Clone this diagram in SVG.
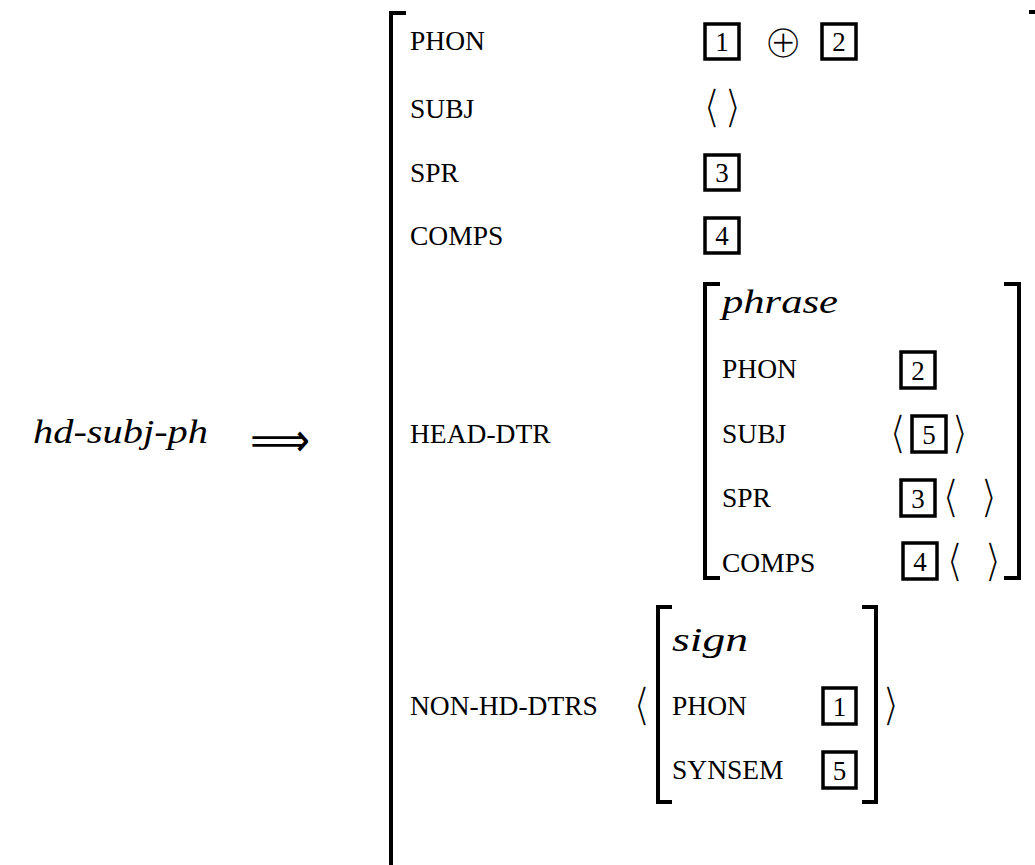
<svg xmlns="http://www.w3.org/2000/svg" width="1035" height="865" viewBox="0 0 1035 865">
<style>
.lbl{font-family:"Liberation Serif","Times New Roman",serif;font-size:27.5px;fill:#000}
.it{font-family:"Liberation Serif","Times New Roman",serif;font-style:italic;font-size:34px;fill:#000}
.num{font-family:"Liberation Serif","Times New Roman",serif;font-size:27px;fill:#000;text-anchor:middle}
.ang{font-family:"DejaVu Sans",sans-serif;font-size:45px;fill:#000;stroke:#fff;stroke-width:1.6px}
.sym{font-family:"DejaVu Sans",sans-serif;fill:#000}
.br{fill:none;stroke:#000;stroke-width:4}
.box{fill:none;stroke:#000;stroke-width:3.5}
</style>
<rect width="1035" height="865" fill="#fff"/>

<g id="lhs">
  <text class="it" x="33" y="443" textLength="175" lengthAdjust="spacingAndGlyphs">hd-subj-ph</text>
  <text class="sym" x="250" y="456" font-size="46" textLength="60" lengthAdjust="spacingAndGlyphs">⟹</text>
</g>

<g id="connectors">
  <path class="br" d="M406,13 H391 V865"/>
  <path class="br" d="M1029,12 H1035"/>
</g>

<g id="outer-avm">
  <g id="row-phon">
    <text class="lbl" x="410" y="50">PHON</text>
    <rect class="box" x="705" y="24" width="34" height="35"/>
    <text class="num" x="722" y="51">1</text>
    <text class="sym" x="783" y="58" font-size="48" text-anchor="middle" stroke="#fff" stroke-width="2">⊕</text>
    <rect class="box" x="822" y="24" width="34" height="35"/>
    <text class="num" x="839" y="51">2</text>
  </g>
  <g id="row-subj">
    <text class="lbl" x="410" y="118">SUBJ</text>
    <text class="ang" x="703" y="122">⟨</text>
    <text class="ang" x="724" y="122">⟩</text>
  </g>
  <g id="row-spr">
    <text class="lbl" x="410" y="182">SPR</text>
    <rect class="box" x="705" y="155" width="34" height="35"/>
    <text class="num" x="722" y="182">3</text>
  </g>
  <g id="row-comps">
    <text class="lbl" x="410" y="245">COMPS</text>
    <rect class="box" x="705" y="218" width="34" height="35"/>
    <text class="num" x="722" y="245">4</text>
  </g>
  <g id="row-head-dtr">
    <text class="lbl" x="410" y="443">HEAD-DTR</text>
  </g>
  <g id="row-non-hd-dtrs">
    <text class="lbl" x="410" y="715">NON-HD-DTRS</text>
    <text class="ang" x="633" y="720">⟨</text>
    <text class="ang" x="882" y="720">⟩</text>
  </g>
</g>

<g id="phrase-avm">
  <path class="br" d="M720,284 H705 V578 H720"/>
  <path class="br" d="M1004,284 H1019 V578 H1004"/>
  <text class="it" x="722" y="313" textLength="116" lengthAdjust="spacingAndGlyphs">phrase</text>
  <text class="lbl" x="722" y="378">PHON</text>
  <rect class="box" x="901" y="352" width="34" height="36"/>
  <text class="num" x="918" y="380">2</text>
  <text class="lbl" x="722" y="443">SUBJ</text>
  <text class="ang" x="889" y="448">⟨</text>
  <rect class="box" x="912" y="416" width="34" height="36"/>
  <text class="num" x="929" y="444">5</text>
  <text class="ang" x="951" y="448">⟩</text>
  <text class="lbl" x="722" y="507">SPR</text>
  <rect class="box" x="901" y="480" width="34" height="36"/>
  <text class="num" x="918" y="508">3</text>
  <text class="ang" x="942" y="512">⟨</text>
  <text class="ang" x="980" y="512">⟩</text>
  <text class="lbl" x="722" y="572">COMPS</text>
  <rect class="box" x="903" y="543" width="34" height="36"/>
  <text class="num" x="920" y="571">4</text>
  <text class="ang" x="946" y="576">⟨</text>
  <text class="ang" x="984" y="576">⟩</text>
</g>

<g id="sign-avm">
  <path class="br" d="M672,607 H658 V802 H672"/>
  <path class="br" d="M862,607 H876 V802 H862"/>
  <text class="it" x="672" y="651" textLength="76" lengthAdjust="spacingAndGlyphs">sign</text>
  <text class="lbl" x="672" y="715">PHON</text>
  <rect class="box" x="823" y="688" width="33" height="36"/>
  <text class="num" x="839.5" y="716">1</text>
  <text class="lbl" x="672" y="779">SYNSEM</text>
  <rect class="box" x="823" y="752" width="33" height="36"/>
  <text class="num" x="839.5" y="780">5</text>
</g>
</svg>
